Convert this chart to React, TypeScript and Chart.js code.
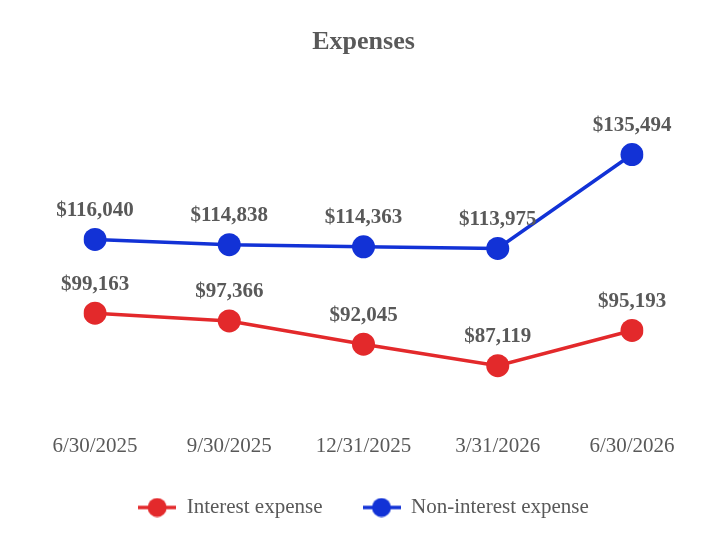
import { useEffect, useRef } from 'react';
import { Chart, ChartConfiguration, Plugin, registerables } from 'chart.js';

Chart.register(...registerables);

const quarters = ['6/30/2025', '9/30/2025', '12/31/2025', '3/31/2026', '6/30/2026'];
const interestExpense = [99163, 97366, 92045, 87119, 95193];
const nonInterestExpense = [116040, 114838, 114363, 113975, 135494];

const RED = '#e3292b';
const BLUE = '#1232d6';
const GRAY = '#595959';
const FONT = '"Liberation Serif", "Times New Roman", serif';

// legend marker: short line with a dot in the middle
function makeMarker(color: string) {
  const c = document.createElement('canvas');
  c.width = 38;
  c.height = 20;
  const g = c.getContext('2d');
  if (g) {
    g.strokeStyle = color;
    g.lineWidth = 3.5;
    g.beginPath();
    g.moveTo(0, 10);
    g.lineTo(38, 10);
    g.stroke();
    g.fillStyle = color;
    g.beginPath();
    g.arc(19, 10, 9.5, 0, Math.PI * 2);
    g.fill();
  }
  return c;
}

const valueLabels: Plugin<'line'> = {
  id: 'valueLabels',
  afterDatasetsDraw(chart) {
    const ctx = chart.ctx;
    ctx.save();
    ctx.font = `bold 21px ${FONT}`;
    ctx.fillStyle = GRAY;
    ctx.textAlign = 'center';
    ctx.textBaseline = 'middle';
    chart.data.datasets.forEach((ds, i) => {
      const meta = chart.getDatasetMeta(i);
      meta.data.forEach((pt, j) => {
        const v = ds.data[j] as number;
        ctx.fillText('$' + v.toLocaleString('en-US'), pt.x, pt.y - 29);
      });
    });
    ctx.restore();
  },
};

export default function App() {
  const chartRef = useRef<HTMLCanvasElement>(null);
  const chartInstance = useRef<Chart | null>(null);

  useEffect(() => {
    if (!chartRef.current) return;
    const ctx = chartRef.current.getContext('2d');
    if (!ctx) return;

    if (chartInstance.current) {
      chartInstance.current.destroy();
    }

    const config: ChartConfiguration<'line'> = {
      type: 'line',
      data: {
        labels: quarters,
        datasets: [
          {
            label: 'Interest expense',
            data: interestExpense,
            borderColor: RED,
            backgroundColor: RED,
            borderWidth: 3.5,
            pointRadius: 11.5,
            pointHoverRadius: 11.5,
            pointBorderWidth: 0,
            pointStyle: 'circle',
            tension: 0,
            fill: false,
          },
          {
            label: 'Non-interest expense',
            data: nonInterestExpense,
            borderColor: BLUE,
            backgroundColor: BLUE,
            borderWidth: 3.5,
            pointRadius: 11.5,
            pointHoverRadius: 11.5,
            pointBorderWidth: 0,
            pointStyle: 'circle',
            tension: 0,
            fill: false,
          },
        ],
      },
      options: {
        animation: false,
        responsive: true,
        maintainAspectRatio: false,
        layout: {
          padding: { left: 87, right: 88, top: 9, bottom: 20 },
        },
        plugins: {
          title: {
            display: true,
            text: 'Expenses',
            color: GRAY,
            font: { family: FONT, size: 26, weight: 'bold' },
            padding: { top: 10, bottom: 33 },
          },
          legend: {
            display: true,
            position: 'bottom',
            labels: {
              color: GRAY,
              font: { family: FONT, size: 21 },
              usePointStyle: true,
              pointStyleWidth: 38,
              padding: 40,
              generateLabels: (chart) =>
                chart.data.datasets.map((ds, i) => ({
                  text: ds.label as string,
                  datasetIndex: i,
                  fontColor: GRAY,
                  hidden: !chart.isDatasetVisible(i),
                  pointStyle: makeMarker(ds.borderColor as string),
                  lineWidth: 0,
                })),
            },
          },
          tooltip: { enabled: false },
        },
        scales: {
          x: {
            offset: false,
            grid: { display: false },
            border: { display: false },
            ticks: {
              color: GRAY,
              font: { family: FONT, size: 21 },
              padding: -2,
              maxRotation: 0,
            },
          },
          y: {
            display: false,
            min: 72900,
            max: 150000,
          },
        },
      },
      plugins: [valueLabels],
    };

    chartInstance.current = new Chart(ctx, config);

    return () => {
      if (chartInstance.current) {
        chartInstance.current.destroy();
      }
    };
  }, []);

  return (
    <div style={{ width: '712px', height: '540px', position: 'relative' }}>
      <canvas ref={chartRef}></canvas>
    </div>
  );
}
